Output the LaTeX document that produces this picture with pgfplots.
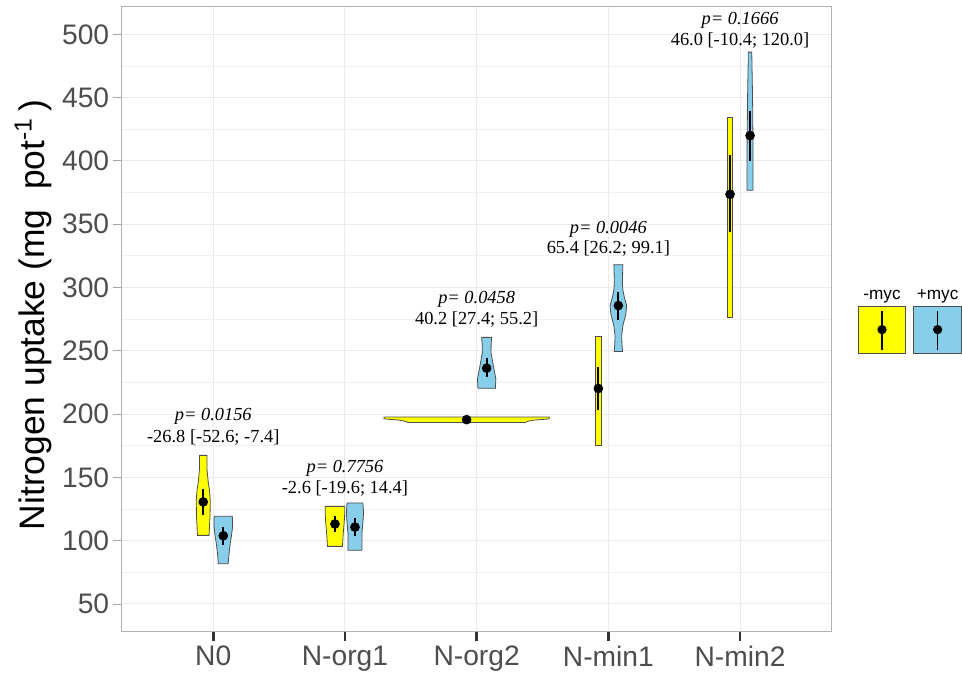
\documentclass[border=0pt]{standalone}
\usepackage{fontspec}
\setmainfont{Liberation Serif}
\setsansfont{Liberation Sans}
\usepackage{pgfplots}
\pgfplotsset{compat=1.18}
\definecolor{myyellow}{HTML}{FFFF00}
\definecolor{myblue}{HTML}{87CEEB}
\definecolor{outl}{HTML}{4D4D4D}
\definecolor{gridc}{HTML}{EBEBEB}
\definecolor{tickc}{HTML}{4D4D4D}
\begin{document}
\begin{tikzpicture}
\useasboundingbox (-61pt,-22.15pt) rectangle (420pt,315.85pt);
\begin{axis}[
  at={(0pt,0pt)}, anchor=south west,
  scale only axis, width=354.85pt, height=312.5pt,
  xmin=0.307, xmax=5.696, ymin=28.1, ymax=521.8,
  xtick={1,2,3,4,5}, xticklabels={N0,N-org1,N-org2,N-min1,N-min2},
  ytick={50,100,...,500}, minor ytick={75,125,...,475},
  grid=both,
  major grid style={gridc, line width=0.5pt},
  minor grid style={gridc!75!white, line width=0.4pt},
  axis line style={draw=gray!60, line width=0.5pt},
  tick align=outside, tick pos=left,
  major tick length=4.7pt, minor tick length=0pt,
  xtick style={draw=black!80, line width=1.4pt},
  ytick style={draw=gray!70, line width=0.4pt},
  ticklabel style={font=\sffamily\fontsize{14.1}{15}\selectfont, text=tickc},
  yticklabel style={xshift=1.8pt},
  xticklabel style={yshift=1pt},
  /pgf/number format/assume math mode=true,
  ylabel={Nitrogen uptake (mg\ \ pot\textsuperscript{-1}\,)},
  ylabel style={font=\sffamily\fontsize{17.7}{18}\selectfont, inner sep=0pt, at={(axis description cs:-0.0986,0.5067)}, anchor=south},
  clip=false,
  legend style={draw=none, fill=none, inner sep=0pt, outer sep=0pt, at={(rel axis cs:1.0368,0.4454)}, anchor=south west},
]
% ---- violins: -myc (yellow)
\addplot[fill=myyellow, draw=outl, line width=0.4pt,
  legend image code/.code={
    \draw[draw=outl, line width=0.4pt, fill=myyellow] (0pt,-11.65pt) rectangle (23.8pt,11.65pt);
    \draw[black, line width=0.8pt] (11.9pt,-10pt) -- (11.9pt,9.15pt);
    \fill[black] (11.9pt,0pt) circle (2.1pt);
    \node[anchor=base, font=\sffamily\fontsize{8.6}{9}\selectfont, inner sep=0pt, text=black] at (11.9pt,15.25pt) {-myc};
    \draw[draw=outl, line width=0.4pt, fill=myblue] (27.8pt,-11.65pt) rectangle (51.6pt,11.65pt);
    \draw[black, line width=0.8pt] (39.7pt,-10pt) -- (39.7pt,9.15pt);
    \fill[black] (39.7pt,0pt) circle (2.1pt);
    \node[anchor=base, font=\sffamily\fontsize{8.6}{9}\selectfont, inner sep=0pt, text=black] at (39.7pt,15.25pt) {+myc};
  }] coordinates {
  (0.9680,104.2) (0.9711,111) (0.9756,120) (0.9772,132) (0.9711,140) (0.9620,146) (0.9529,156) (0.9521,167.4)
  (0.8959,167.4) (0.8951,156) (0.8860,146) (0.8769,140) (0.8708,132) (0.8724,120) (0.8769,111) (0.8800,104.2)} --cycle;
\addlegendentry{}
\addplot[fill=myyellow, draw=outl, line width=0.4pt, forget plot] coordinates {
  (1.9809,95.5) (1.9870,106) (1.9946,115) (1.9984,122) (1.9984,127.1)
  (1.8496,127.1) (1.8496,122) (1.8534,115) (1.8610,106) (1.8671,95.5)} --cycle;
\addplot[fill=myyellow, draw=outl, line width=0.4pt, forget plot] coordinates {
  (3.3682,193.3) (3.3872,194.3) (3.4403,195.3) (3.5314,196.0) (3.5519,196.4) (3.5519,197.7)
  (2.2961,197.7) (2.2961,196.4) (2.3166,196.0) (2.4077,195.3) (2.4608,194.3) (2.4798,193.3)} --cycle;
\addplot[fill=myyellow, draw=outl, line width=0.4pt, forget plot] coordinates {
  (3.9491,175.5) (3.9491,261.4) (3.8989,261.4) (3.8989,175.5)} --cycle;
\addplot[fill=myyellow, draw=outl, line width=0.4pt, forget plot] coordinates {
  (4.9430,276.6) (4.9430,434.2) (4.9050,434.2) (4.9050,276.6)} --cycle;
% ---- violins: +myc (blue)
\addplot[fill=myblue, draw=outl, line width=0.4pt, forget plot] coordinates {
  (1.1132,81.8) (1.1200,90) (1.1292,98) (1.1383,104) (1.1466,111) (1.1466,116) (1.1443,119.3)
  (1.0077,119.3) (1.0054,116) (1.0054,111) (1.0137,104) (1.0228,98) (1.0320,90) (1.0388,81.8)} --cycle;
\addplot[fill=myblue, draw=outl, line width=0.4pt, forget plot] coordinates {
  (2.1292,92.4) (2.1292,106) (2.1367,115) (2.1413,122) (2.1383,127) (2.1352,129.8)
  (2.0168,129.8) (2.0137,127) (2.0107,122) (2.0153,115) (2.0228,106) (2.0228,92.4)} --cycle;
\addplot[fill=myblue, draw=outl, line width=0.4pt, forget plot] coordinates {
  (3.1421,220.4) (3.1459,227.6) (3.1269,238.1) (3.1087,248.7) (3.1102,255) (3.1140,260.6)
  (3.0380,260.6) (3.0418,255) (3.0433,248.7) (3.0251,238.1) (3.0061,227.6) (3.0099,220.4)} --cycle;
\addplot[fill=myblue, draw=outl, line width=0.4pt, forget plot] coordinates {
  (4.1079,249.5) (4.1033,255) (4.1011,261.9) (4.1102,269.8) (4.1329,279) (4.1390,285.7) (4.1216,292.3) (4.1102,298) (4.1064,304.2) (4.1079,310) (4.1102,318)
  (4.0418,318) (4.0441,310) (4.0456,304.2) (4.0418,298) (4.0304,292.3) (4.0130,285.7) (4.0191,279) (4.0418,269.8) (4.0509,261.9) (4.0487,255) (4.0441,249.5)} --cycle;
\addplot[fill=myblue, draw=outl, line width=0.4pt, forget plot] coordinates {
  (5.0988,376.8) (5.0988,410) (5.0950,449.5) (5.0889,485.9)
  (5.0631,485.9) (5.0570,449.5) (5.0532,410) (5.0532,376.8)} --cycle;
% ---- means with intervals
\addplot[only marks, mark=*, mark size=2.2pt, black, forget plot,
  error bars/.cd, y dir=both, y explicit, error mark=none,
  error bar style={line width=0.9pt, black}] coordinates {
  (0.924,130.6) += (0,10.3) -= (0,10.1)
  (1.076,103.9) += (0,6.8) -= (0,7.2)
  (1.924,113.2) += (0,6.0) -= (0,6.3)
  (2.076,110.7) += (0,7.2) -= (0,6.8)
  (2.924,195.6) += (0,0.8) -= (0,0.8)
  (3.076,236.3) += (0,7.9) -= (0,7.3)
  (3.924,220.2) += (0,17.1) -= (0,17.2)
  (4.076,285.7) += (0,11.0) -= (0,11.1)
  (4.924,373.6) += (0,31.1) -= (0,29.6)
  (5.076,420.0) += (0,19.7) -= (0,20.2)
};
% ---- annotations
\node[anchor=base, font=\itshape\fontsize{9.2}{10}\selectfont] at (axis cs:1,194.6) {p= 0.0156};
\node[anchor=base, font=\fontsize{9.2}{10}\selectfont] at (axis cs:1,177.2) {-26.8 [-52.6; -7.4]};
\node[anchor=base, font=\itshape\fontsize{9.2}{10}\selectfont] at (axis cs:2,153.9) {p= 0.7756};
\node[anchor=base, font=\fontsize{9.2}{10}\selectfont] at (axis cs:2,137.6) {-2.6 [-19.6; 14.4]};
\node[anchor=base, font=\itshape\fontsize{9.2}{10}\selectfont] at (axis cs:3,287.5) {p= 0.0458};
\node[anchor=base, font=\fontsize{9.2}{10}\selectfont] at (axis cs:3,270.4) {40.2 [27.4; 55.2]};
\node[anchor=base, font=\itshape\fontsize{9.2}{10}\selectfont] at (axis cs:4,342.3) {p= 0.0046};
\node[anchor=base, font=\fontsize{9.2}{10}\selectfont] at (axis cs:4,327.0) {65.4 [26.2; 99.1]};
\node[anchor=base, font=\itshape\fontsize{9.2}{10}\selectfont] at (axis cs:5,508.0) {p= 0.1666};
\node[anchor=base, font=\fontsize{9.2}{10}\selectfont] at (axis cs:5,490.9) {46.0 [-10.4; 120.0]};
\end{axis}
\end{tikzpicture}
\end{document}
